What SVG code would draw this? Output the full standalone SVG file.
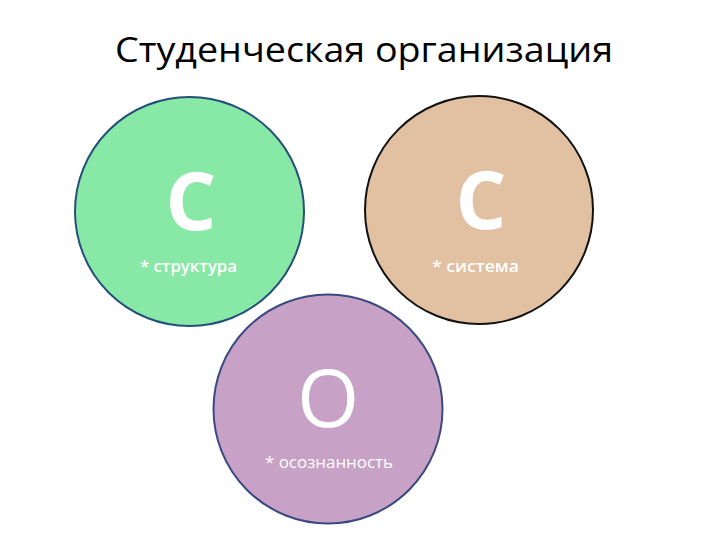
<svg xmlns="http://www.w3.org/2000/svg" width="720" height="540" viewBox="0 0 720 540">
<style>
.title{font-family:"Open Sans","Noto Sans",sans-serif;font-size:35px;fill:#000}
.big{font-family:"Open Sans","Noto Sans",sans-serif;font-size:80px;fill:#fff;text-anchor:middle}
.small{font-family:"Open Sans","Noto Sans",sans-serif;font-size:16px;fill:#fff}
.b{font-weight:bold}
.sb{font-weight:600}
</style>
<rect width="720" height="540" fill="#fff"/>
<text class="title" x="115" y="62" textLength="498" lengthAdjust="spacingAndGlyphs">Студенческая организация</text>
<g id="node-structure">
<circle cx="189.5" cy="211.5" r="114.5" fill="#88e8a6" stroke="#24507a" stroke-width="2"/>
<text class="big b" x="191" y="230">С</text>
<text class="small sb" x="140" y="272" textLength="97" lengthAdjust="spacingAndGlyphs">* структура</text>
</g>
<g id="node-system">
<circle cx="479" cy="210" r="114" fill="#e2c0a2" stroke="#111" stroke-width="2"/>
<text class="big b" x="481" y="229">С</text>
<text class="small sb" x="432" y="272" textLength="87" lengthAdjust="spacingAndGlyphs">* система</text>
</g>
<g id="node-awareness">
<circle cx="328" cy="409" r="114.5" fill="#c8a2c6" stroke="#3a4a80" stroke-width="2"/>
<text class="big" x="328" y="427">О</text>
<text class="small" x="265" y="468" fill="#fbeef8" font-size="17" textLength="128" lengthAdjust="spacingAndGlyphs">* осознанность</text>
</g>
<g id="connectors"/>
</svg>
